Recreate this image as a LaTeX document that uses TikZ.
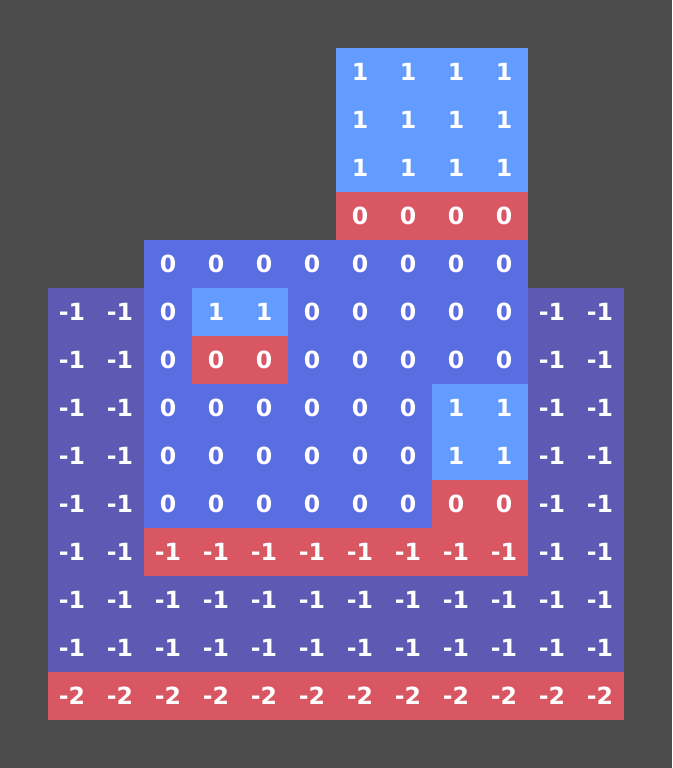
\documentclass[tikz,border=0pt]{standalone}
\usepackage{fontspec}
\setsansfont{DejaVu Sans}
\usetikzlibrary{positioning}
\definecolor{Backdrop}{RGB}{75,75,75}
\definecolor{Sky}{RGB}{99,155,255}
\definecolor{Coral}{RGB}{217,87,99}
\definecolor{Royal}{RGB}{91,110,225}
\definecolor{Violet}{RGB}{94,90,180}

\begin{document}
\begin{tikzpicture}[
    x=1cm, y=-1cm,
    font=\sffamily\bfseries\fontsize{14}{14}\selectfont,
    cell/.style={minimum size=1cm, inner sep=0pt, outer sep=0pt, text=white},
]

% --- fondo ---
\fill[Backdrop] (0,0) rectangle (14,16);
\useasboundingbox (0,0) rectangle (14,16);

% --- celdas: fila / primera columna / color y valor ---
\foreach \r/\first/\row in {
    0/6/{Sky/1,Sky/1,Sky/1,Sky/1},
    1/6/{Sky/1,Sky/1,Sky/1,Sky/1},
    2/6/{Sky/1,Sky/1,Sky/1,Sky/1},
    3/6/{Coral/0,Coral/0,Coral/0,Coral/0},
    4/2/{Royal/0,Royal/0,Royal/0,Royal/0,Royal/0,Royal/0,Royal/0,Royal/0},
    5/0/{Violet/-1,Violet/-1,Royal/0,Sky/1,Sky/1,Royal/0,Royal/0,Royal/0,Royal/0,Royal/0,Violet/-1,Violet/-1},
    6/0/{Violet/-1,Violet/-1,Royal/0,Coral/0,Coral/0,Royal/0,Royal/0,Royal/0,Royal/0,Royal/0,Violet/-1,Violet/-1},
    7/0/{Violet/-1,Violet/-1,Royal/0,Royal/0,Royal/0,Royal/0,Royal/0,Royal/0,Sky/1,Sky/1,Violet/-1,Violet/-1},
    8/0/{Violet/-1,Violet/-1,Royal/0,Royal/0,Royal/0,Royal/0,Royal/0,Royal/0,Sky/1,Sky/1,Violet/-1,Violet/-1},
    9/0/{Violet/-1,Violet/-1,Royal/0,Royal/0,Royal/0,Royal/0,Royal/0,Royal/0,Coral/0,Coral/0,Violet/-1,Violet/-1},
    10/0/{Violet/-1,Violet/-1,Coral/-1,Coral/-1,Coral/-1,Coral/-1,Coral/-1,Coral/-1,Coral/-1,Coral/-1,Violet/-1,Violet/-1},
    11/0/{Violet/-1,Violet/-1,Violet/-1,Violet/-1,Violet/-1,Violet/-1,Violet/-1,Violet/-1,Violet/-1,Violet/-1,Violet/-1,Violet/-1},
    12/0/{Violet/-1,Violet/-1,Violet/-1,Violet/-1,Violet/-1,Violet/-1,Violet/-1,Violet/-1,Violet/-1,Violet/-1,Violet/-1,Violet/-1},
    13/0/{Coral/-2,Coral/-2,Coral/-2,Coral/-2,Coral/-2,Coral/-2,Coral/-2,Coral/-2,Coral/-2,Coral/-2,Coral/-2,Coral/-2}}{
    \foreach \s/\v [count=\c from 0] in \row{
        \pgfmathtruncatemacro{\x}{\first+\c}
        \node[cell, fill=\s] (t-\r-\x) at (\x+1.5,\r+1.5) {\v};
    }
}

\end{tikzpicture}
\end{document}
